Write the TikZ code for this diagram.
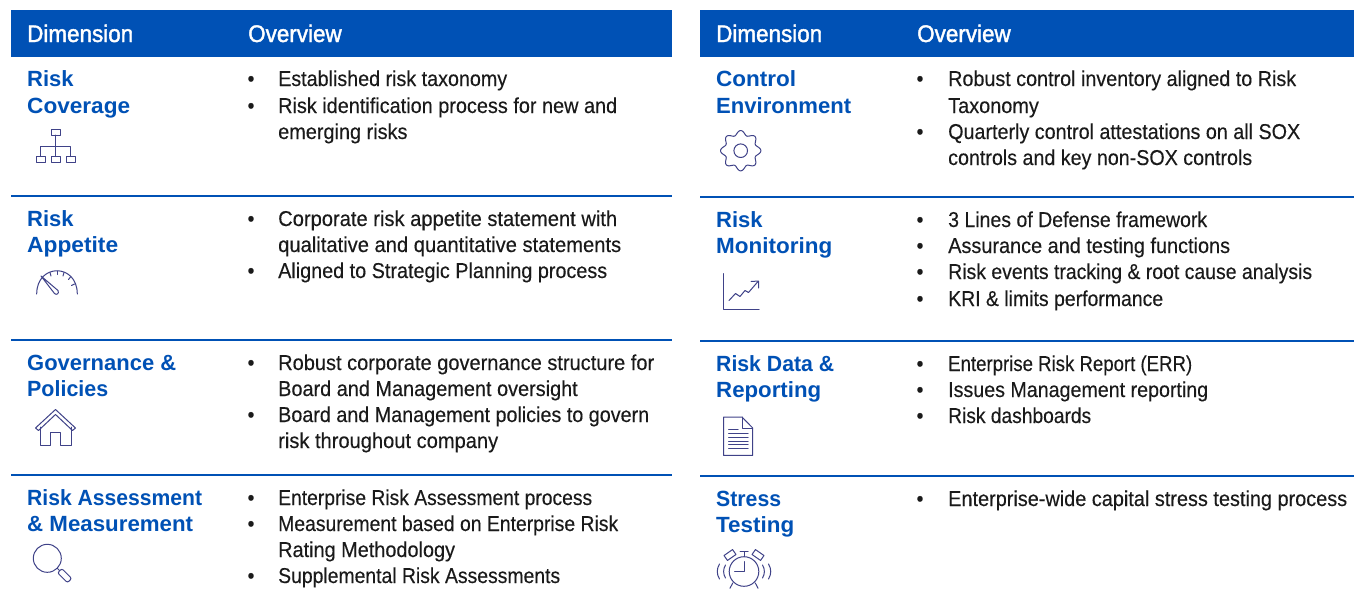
\documentclass[tikz,border=0pt]{standalone}
\usepackage{fontspec}
\setmainfont[FakeStretch=0.925,FakeBold=0.25]{Liberation Sans}
\newfontfamily\headfont[FakeStretch=0.935,FakeBold=1.6]{Liberation Sans}
\newfontfamily\titlefont[FakeStretch=1.0]{Liberation Sans}
\newcommand{\fitw}[2]{\resizebox{#1pt}{\height}{#2}}
\definecolor{brandblue}{HTML}{0051B5}
\definecolor{iconblue}{HTML}{3F4288}
\definecolor{bodyink}{HTML}{1A1A1A}
\tikzset{
 band/.style={fill=brandblue,draw=none},
 divider/.style={draw=brandblue,line width=1.7pt},
 headtext/.style={anchor=base west,inner sep=0,text=white,font=\headfont\fontsize{24}{26}\selectfont},
 titletext/.style={anchor=base west,inner sep=0,text=brandblue,font=\titlefont\bfseries\fontsize{22}{26}\selectfont},
 bodytext/.style={anchor=base west,inner sep=0,text=bodyink,font=\fontsize{21.5}{26}\selectfont},
 bullettext/.style={anchor=base,inner sep=0,text=bodyink,font=\fontsize{21.5}{26}\selectfont},
 icon/.style={draw=iconblue,line width=1pt,line join=round,line cap=round},
}
\begin{document}
\begin{tikzpicture}[x=1pt,y=-1pt]
\useasboundingbox (0,0) rectangle (1354,608);
\fill[white] (0,0) rectangle (1354,608);
% header bands
\path[band] (11,10) rectangle (672,57);
\path[band] (700,10) rectangle (1354,57);
\node[headtext] (hd1) at (27,42) {Dimension};
\node[headtext] (ho1) at (248,42) {Overview};
\node[headtext] (hd2) at (716,42) {Dimension};
\node[headtext] (ho2) at (917,42) {Overview};
% dividers
\draw[divider] (11,196) -- (672,196);
\draw[divider] (11,340) -- (672,340);
\draw[divider] (11,475) -- (672,475);
\draw[divider] (700,197) -- (1354,197);
\draw[divider] (700,341) -- (1354,341);
\draw[divider] (700,476) -- (1354,476);
% left titles
\node[titletext] (t1a) at (27,86) {Risk};
\node[titletext] (t1b) at (27,113) {\fitw{103}{Coverage}};
\node[titletext] (t2a) at (27,226) {Risk};
\node[titletext] (t2b) at (27,252) {\fitw{91}{Appetite}};
\node[titletext] (t3a) at (27,370) {\fitw{149}{Governance \&}};
\node[titletext] (t3b) at (27,396) {\fitw{81}{Policies}};
\node[titletext] (t4a) at (27,505) {\fitw{175}{Risk Assessment}};
\node[titletext] (t4b) at (27,531) {\fitw{166}{\& Measurement}};
% right titles
\node[titletext] (t5a) at (716,86) {\fitw{80}{Control}};
\node[titletext] (t5b) at (716,113) {\fitw{135}{Environment}};
\node[titletext] (t6a) at (716,227) {Risk};
\node[titletext] (t6b) at (716,253) {\fitw{116}{Monitoring}};
\node[titletext] (t7a) at (716,371) {\fitw{118}{Risk Data \&}};
\node[titletext] (t7b) at (716,397) {\fitw{105}{Reporting}};
\node[titletext] (t8a) at (716,506) {\fitw{65}{Stress}};
\node[titletext] (t8b) at (716,532) {\fitw{78}{Testing}};
% left body
\node[bullettext] (b1) at (251,86) {•};
\node[bodytext] (l1) at (278,86) {\fitw{229}{Established risk taxonomy}};
\node[bullettext] (b2) at (251,113) {•};
\node[bodytext] (l2) at (278,113) {\fitw{339}{Risk identification process for new and}};
\node[bodytext] (l3) at (278,139) {emerging risks};
\node[bullettext] (b3) at (251,226) {•};
\node[bodytext] (l4) at (278,226) {\fitw{339}{Corporate risk appetite statement with}};
\node[bodytext] (l5) at (278,252) {\fitw{343}{qualitative and quantitative statements}};
\node[bullettext] (b4) at (251,278) {•};
\node[bodytext] (l6) at (278,278) {\fitw{329}{Aligned to Strategic Planning process}};
\node[bullettext] (b5) at (251,370) {•};
\node[bodytext] (l7) at (278,370) {\fitw{376}{Robust corporate governance structure for}};
\node[bodytext] (l8) at (278,396) {Board and Management oversight};
\node[bullettext] (b6) at (251,422) {•};
\node[bodytext] (l9) at (278,422) {\fitw{371}{Board and Management policies to govern}};
\node[bodytext] (l10) at (278,448) {\fitw{220}{risk throughout company}};
\node[bullettext] (b7) at (251,505) {•};
\node[bodytext] (l11) at (278,505) {\fitw{314}{Enterprise Risk Assessment process}};
\node[bullettext] (b8) at (251,531) {•};
\node[bodytext] (l12) at (278,531) {\fitw{340}{Measurement based on Enterprise Risk}};
\node[bodytext] (l13) at (278,557) {Rating Methodology};
\node[bullettext] (b9) at (251,583) {•};
\node[bodytext] (l14) at (278,583) {\fitw{282}{Supplemental Risk Assessments}};
% right body
\node[bullettext] (r1) at (920,86) {•};
\node[bodytext] (m1) at (948,86) {\fitw{348}{Robust control inventory aligned to Risk}};
\node[bodytext] (m2) at (948,113) {Taxonomy};
\node[bullettext] (r2) at (920,139) {•};
\node[bodytext] (m3) at (948,139) {\fitw{352}{Quarterly control attestations on all SOX}};
\node[bodytext] (m4) at (948,165) {\fitw{304}{controls and key non-SOX controls}};
\node[bullettext] (r3) at (920,227) {•};
\node[bodytext] (m5) at (948,227) {\fitw{259}{3 Lines of Defense framework}};
\node[bullettext] (r4) at (920,253) {•};
\node[bodytext] (m6) at (948,253) {Assurance and testing functions};
\node[bullettext] (r5) at (920,279) {•};
\node[bodytext] (m7) at (948,279) {\fitw{364}{Risk events tracking \& root cause analysis}};
\node[bullettext] (r6) at (920,306) {•};
\node[bodytext] (m8) at (948,306) {\fitw{215}{KRI \& limits performance}};
\node[bullettext] (r7) at (920,371) {•};
\node[bodytext] (m9) at (948,371) {\fitw{244}{Enterprise Risk Report (ERR)}};
\node[bullettext] (r8) at (920,397) {•};
\node[bodytext] (m10) at (948,397) {\fitw{260}{Issues Management reporting}};
\node[bullettext] (r9) at (920,423) {•};
\node[bodytext] (m11) at (948,423) {\fitw{143}{Risk dashboards}};
\node[bullettext] (r10) at (920,506) {•};
\node[bodytext] (m12) at (948,506) {\fitw{399}{Enterprise-wide capital stress testing process}};
\begin{scope}[icon]
% icon: org chart
\draw (51,129.5) rectangle (60.5,135);
\draw (36,156.5) rectangle (45.5,162);
\draw (51,156.5) rectangle (60.5,162);
\draw (66,156.5) rectangle (75.5,162);
\draw (55.7,135) -- (55.7,156.5);
\draw (40.7,156.5) -- (40.7,146) -- (70.7,146) -- (70.7,156.5);
% icon: gauge
\draw (36.7,294) .. controls (36.7,263) and (77.3,263) .. (77.3,294);
\draw (41,276) -- (54.5,293.5) .. controls (56.5,295.5) and (59.5,293.5) .. (58,290.5) -- cycle;
\draw (50,272.5) -- (51,276);
\draw (57,271) -- (57,274.5);
\draw (64,272.5) -- (63,276);
\draw (70.5,277) -- (68.5,279.5);
\draw (74.5,284) -- (71.5,285.5);
% icon: house
\draw (35.5,428) -- (55.5,409.5) -- (75.5,428) -- (72.5,430.5) -- (55.5,414.5) -- (38.5,430.5) -- cycle;
\draw (40.5,427) -- (40.5,445.5) -- (50.5,445.5) -- (50.5,432.5) -- (60.5,432.5) -- (60.5,445.5) -- (71,445.5) -- (71,427);
% icon: magnifier
\draw (47.3,558.3) circle (14);
\draw (57.3,568.3) -- (59.5,570.5);
\draw[rotate around={-45:(65,576)},rounded corners=2pt] (57.5,573) rectangle (71.5,579);
% icon: gear
\draw plot[smooth cycle,samples=96,domain=0:356.25,variable=\a] ({740.7+(18+2.2*cos(8*\a))*cos(\a)},{150.7+(18+2.2*cos(8*\a))*sin(\a)});
\draw (740.7,150.7) circle (6.8);
% icon: chart
\draw (723.5,273.5) -- (723.5,309) -- (759,309);
\draw (729,300.5) -- (735.5,293.5) -- (740,296.5) -- (745,290.5) -- (748.5,292.5) -- (758,281.5);
\draw (751,281.5) -- (758.5,281) -- (758.5,288);
% icon: document
\draw (723.5,417) -- (742,417) -- (752.7,428) -- (752.7,455.3) -- (723.5,455.3) -- cycle;
\draw (742,417) -- (742,428) -- (752.7,428);
\draw (728.5,429.3) -- (738,429.3);
\draw (728.5,433.2) -- (748,433.2);
\draw (728.5,437.1) -- (748,437.1);
\draw (728.5,441) -- (748,441);
\draw (728.5,444.9) -- (748,444.9);
\draw (728.5,448.8) -- (748,448.8);
% icon: alarm clock
\draw (744,571.5) circle (14.8);
\draw (744,561.5) -- (744,571.5) -- (734.5,571.5);
\draw (744,556.7) -- (744,551.7);
\draw (740,551.7) -- (748,551.7);
\draw[rotate around={35:(730,555)}] (724.8,552) rectangle (735.2,558);
\draw[rotate around={-35:(758,555)}] (752.8,552) rectangle (763.2,558);
\draw (732.7,583) -- (730,588.3);
\draw (755.3,583) -- (758,588.3);
\draw (725.5,565) .. controls (723,569) and (723,574) .. (725.5,578);
\draw (719.5,564) .. controls (716.5,569) and (716.5,574) .. (719.5,579);
\draw (762.5,565) .. controls (765,569) and (765,574) .. (762.5,578);
\draw (768.5,564) .. controls (771.5,569) and (771.5,574) .. (768.5,579);
\end{scope}
\end{tikzpicture}
\end{document}
